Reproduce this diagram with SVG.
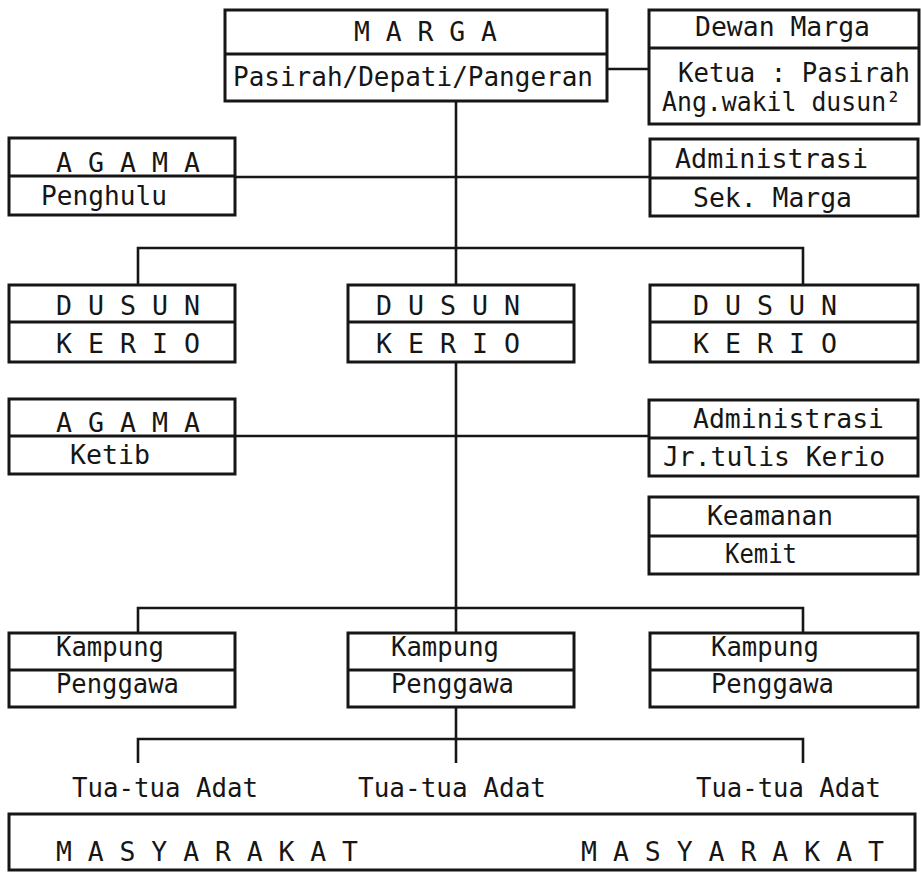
<svg xmlns="http://www.w3.org/2000/svg" width="921" height="872" viewBox="0 0 921 872">
<style>
.box{fill:none;stroke:#161616;stroke-width:3}
.ln{fill:none;stroke:#161616;stroke-width:2.6}
text{font-family:"DejaVu Sans Mono","Liberation Mono",monospace;font-size:26px;fill:#161616}
</style>
<rect width="921" height="872" fill="#ffffff"/>
<g id="connectors">
<path class="ln" d="M607 69H649"/>
<path class="ln" d="M456 101V285"/>
<path class="ln" d="M235 177H650"/>
<path class="ln" d="M138 285V248H803V285"/>
<path class="ln" d="M456 362V633"/>
<path class="ln" d="M235 436H649"/>
<path class="ln" d="M138 633V608H803V633"/>
<path class="ln" d="M456 707V763"/>
<path class="ln" d="M138 763V739H803V763"/>
</g>
<g id="marga">
<rect class="box" x="225" y="10" width="382" height="91"/>
<path class="box" d="M225 54H607"/>
<text x="354" y="41" textLength="143" lengthAdjust="spacingAndGlyphs">M A R G A</text>
<text x="233" y="86" textLength="360" lengthAdjust="spacingAndGlyphs">Pasirah/Depati/Pangeran</text>
</g>
<g id="dewan-marga">
<rect class="box" x="649" y="10" width="270" height="114"/>
<path class="box" d="M649 48H919"/>
<text x="695" y="36" textLength="175" lengthAdjust="spacingAndGlyphs">Dewan Marga</text>
<text x="678" y="82" textLength="232" lengthAdjust="spacingAndGlyphs">Ketua : Pasirah</text>
<text x="662" y="111" textLength="239" lengthAdjust="spacingAndGlyphs">Ang.wakil dusun²</text>
</g>
<g id="agama-1">
<rect class="box" x="9" y="138" width="226" height="77"/>
<path class="box" d="M9 176H235"/>
<text x="56" y="172" textLength="144" lengthAdjust="spacingAndGlyphs">A G A M A</text>
<text x="41" y="205" textLength="126" lengthAdjust="spacingAndGlyphs">Penghulu</text>
</g>
<g id="administrasi-1">
<rect class="box" x="650" y="139" width="268" height="77"/>
<path class="box" d="M650 178H918"/>
<text x="675" y="168" textLength="193" lengthAdjust="spacingAndGlyphs">Administrasi</text>
<text x="693" y="207" textLength="159" lengthAdjust="spacingAndGlyphs">Sek. Marga</text>
</g>
<g id="dusun-1">
<rect class="box" x="9" y="285" width="226" height="77"/>
<path class="box" d="M9 322H235"/>
<text x="56" y="315" textLength="144" lengthAdjust="spacingAndGlyphs">D U S U N</text>
<text x="56" y="353" textLength="144" lengthAdjust="spacingAndGlyphs">K E R I O</text>
</g>
<g id="dusun-2">
<rect class="box" x="348" y="285" width="226" height="77"/>
<path class="box" d="M348 322H574"/>
<text x="376" y="315" textLength="144" lengthAdjust="spacingAndGlyphs">D U S U N</text>
<text x="376" y="353" textLength="144" lengthAdjust="spacingAndGlyphs">K E R I O</text>
</g>
<g id="dusun-3">
<rect class="box" x="650" y="285" width="268" height="77"/>
<path class="box" d="M650 322H918"/>
<text x="693" y="315" textLength="144" lengthAdjust="spacingAndGlyphs">D U S U N</text>
<text x="693" y="353" textLength="144" lengthAdjust="spacingAndGlyphs">K E R I O</text>
</g>
<g id="agama-2">
<rect class="box" x="9" y="399" width="226" height="75"/>
<path class="box" d="M9 436H235"/>
<text x="56" y="432" textLength="144" lengthAdjust="spacingAndGlyphs">A G A M A</text>
<text x="70" y="464" textLength="80" lengthAdjust="spacingAndGlyphs">Ketib</text>
</g>
<g id="administrasi-2">
<rect class="box" x="649" y="400" width="269" height="76"/>
<path class="box" d="M649 438H918"/>
<text x="693" y="428" textLength="191" lengthAdjust="spacingAndGlyphs">Administrasi</text>
<text x="663" y="466" textLength="222" lengthAdjust="spacingAndGlyphs">Jr.tulis Kerio</text>
</g>
<g id="keamanan">
<rect class="box" x="649" y="497" width="269" height="77"/>
<path class="box" d="M649 536H918"/>
<text x="707" y="525" textLength="126" lengthAdjust="spacingAndGlyphs">Keamanan</text>
<text x="725" y="563" textLength="72" lengthAdjust="spacingAndGlyphs">Kemit</text>
</g>
<g id="kampung-1">
<rect class="box" x="9" y="633" width="226" height="74"/>
<path class="box" d="M9 670H235"/>
<text x="56" y="656" textLength="108" lengthAdjust="spacingAndGlyphs">Kampung</text>
<text x="56" y="693" textLength="123" lengthAdjust="spacingAndGlyphs">Penggawa</text>
</g>
<g id="kampung-2">
<rect class="box" x="348" y="633" width="226" height="74"/>
<path class="box" d="M348 670H574"/>
<text x="391" y="656" textLength="108" lengthAdjust="spacingAndGlyphs">Kampung</text>
<text x="391" y="693" textLength="123" lengthAdjust="spacingAndGlyphs">Penggawa</text>
</g>
<g id="kampung-3">
<rect class="box" x="650" y="633" width="268" height="74"/>
<path class="box" d="M650 670H918"/>
<text x="711" y="656" textLength="108" lengthAdjust="spacingAndGlyphs">Kampung</text>
<text x="711" y="693" textLength="123" lengthAdjust="spacingAndGlyphs">Penggawa</text>
</g>
<g id="tua-tua-adat-1"><text x="72" y="797" textLength="186" lengthAdjust="spacingAndGlyphs">Tua-tua Adat</text></g>
<g id="tua-tua-adat-2"><text x="358" y="797" textLength="188" lengthAdjust="spacingAndGlyphs">Tua-tua Adat</text></g>
<g id="tua-tua-adat-3"><text x="696" y="797" textLength="185" lengthAdjust="spacingAndGlyphs">Tua-tua Adat</text></g>
<g id="masyarakat">
<rect class="box" x="9" y="814" width="906" height="56"/>
<text x="56" y="861" textLength="302" lengthAdjust="spacingAndGlyphs">M A S Y A R A K A T</text>
<text x="581" y="861" textLength="303" lengthAdjust="spacingAndGlyphs">M A S Y A R A K A T</text>
</g>
</svg>
